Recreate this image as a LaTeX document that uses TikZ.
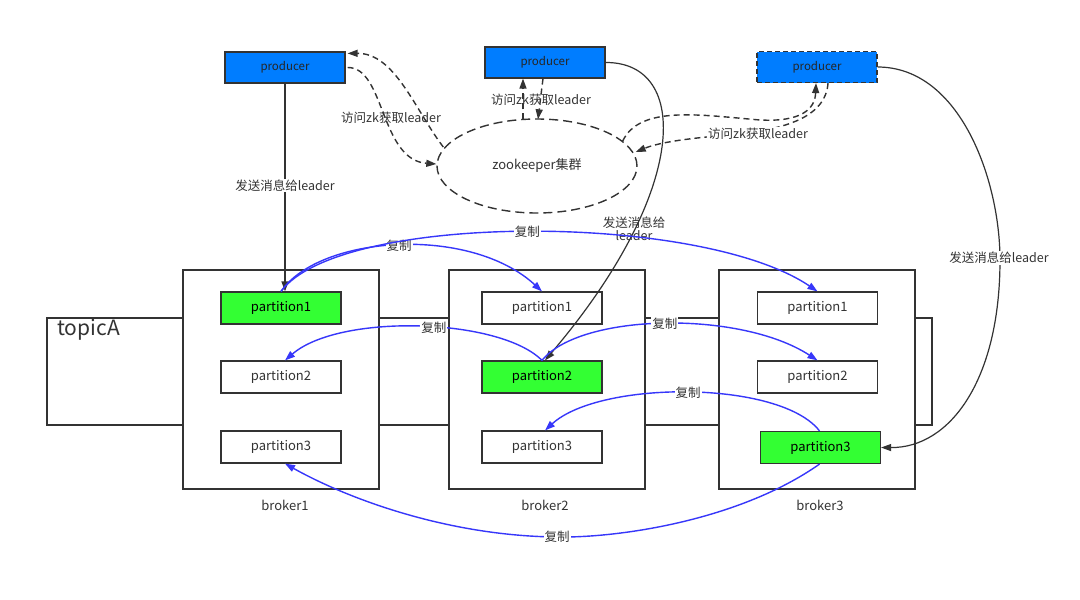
\documentclass[tikz,border=0pt]{standalone}
\usepackage{fontspec}
\setmainfont{Noto Sans CJK SC}
\usetikzlibrary{arrows.meta,shapes.geometric,calc}
\definecolor{txt}{RGB}{51,51,51}
\definecolor{prodblue}{RGB}{0,125,255}
\definecolor{leadgreen}{RGB}{51,255,51}
\definecolor{repblue}{RGB}{55,55,250}
\tikzset{
  prod/.style={draw=txt,fill=prodblue,line width=1.2pt,minimum width=120pt,minimum height=31pt,inner sep=0pt,font=\fontsize{11.5}{13}\selectfont,text=black!85},
  part/.style={draw=txt,fill=white,line width=1.2pt,minimum width=120pt,minimum height=32pt,inner sep=0pt,font=\fontsize{13}{14}\selectfont,text=txt},
  lead/.style={part,fill=leadgreen,text=black},
  brk/.style={draw=txt,fill=white,line width=1.3pt,minimum width=196pt,minimum height=219pt,inner sep=0pt},
  lbl/.style={font=\fontsize{12.5}{14}\selectfont,text=txt,inner sep=1pt},
  wlbl/.style={lbl,fill=white},
  tip/.style={-{Triangle[length=10pt,width=7pt]}},
  send/.style={draw=txt,line width=1.2pt,tip},
  zkline/.style={draw=txt,line width=1.4pt,dash pattern=on 6pt off 4pt,tip},
  rep/.style={draw=repblue,line width=1.4pt,-{Triangle[length=10pt,width=7pt]}},
}
\begin{document}
\begin{tikzpicture}[x=1pt,y=-1pt]
\useasboundingbox (0,0) rectangle (1080,600);
\fill[white] (0,0) rectangle (1080,600);
% topic
\draw[txt,line width=1.2pt] (47,318) rectangle (932,425);
\node[anchor=north west,font=\fontsize{21}{24}\selectfont,text=txt,inner sep=0pt] (topic) at (57,319) {topicA};
% brokers
\node[brk] (b1) at (281,379.5) {};
\node[brk] (b2) at (547,379.5) {};
\node[brk] (b3) at (817,379.5) {};
\node[lbl,font=\fontsize{13}{14}\selectfont] (b1l) at (285,505) {broker1};
\node[lbl,font=\fontsize{13}{14}\selectfont] (b2l) at (545,505) {broker2};
\node[lbl,font=\fontsize{13}{14}\selectfont] (b3l) at (820,505) {broker3};
% partitions
\node[lead] (a1) at (281,308) {partition1};
\node[part] (a2) at (281,377) {partition2};
\node[part] (a3) at (281,447) {partition3};
\node[part] (c1) at (542,308) {partition1};
\node[lead] (c2) at (542,377) {partition2};
\node[part] (c3) at (542,447) {partition3};
\node[part] (d1) at (817.5,308) {partition1};
\node[part] (d2) at (817.5,377) {partition2};
\node[lead] (d3) at (820.5,447.5) {partition3};
% producers and zookeeper
\node[prod] (p1) at (285,67.5) {producer};
\node[prod] (p2) at (545,62.5) {producer};
\node[prod,dashed,dash pattern=on 5pt off 3pt] (p3) at (817,67) {producer};
\node[ellipse,draw=txt,line width=1.4pt,dash pattern=on 9pt off 5pt,minimum width=200pt,minimum height=94pt,inner sep=0pt,font=\fontsize{13}{14}\selectfont,text=txt] (zk) at (537,166) {zookeeper集群};
% send to leader
\draw[send] (p1.south) -- node[wlbl,pos=0.49] (s1) {发送消息给leader} ($(a1.north)+(4,0)$);
\draw[send] (p2.east) .. controls (690,62) and (690,190) .. ($(c2.north)+(3,0)$);
\node[lbl,align=center,font=\fontsize{12.5}{13}\selectfont] (s2) at (634,229) {发送消息给\\leader};
\draw[send] (p3.east) .. controls (960,67) and (1000,180) .. (1000,260) coordinate (m3) .. controls (1000,380) and (950,448) .. (d3.east);
\node[wlbl] (s3) at (999,258) {发送消息给leader};
% zookeeper lookups
\draw[zkline] ($(p1.east)+(2,0)$) .. controls (385,67) and (380,160) .. ($(zk.west)+(0,-2)$);
\draw[zkline] ($(zk.west)+(7,-19)$) .. controls (415,110) and (395,53) .. ($(p1.north east)+(2,2)$);
\node[lbl] (z1) at (391,118) {访问zk获取leader};
\draw[zkline] ($(zk.north)+(-14,1)$) -- ($(p2.south)+(-22,0)$);
\draw[zkline] ($(p2.south)+(-2,0)$) -- ($(zk.north)+(1,1)$);
\node[lbl] (z2) at (541,100) {访问zk获取leader};
\draw[zkline] ($(zk.east)+(-15,-25)$) .. controls (640,105) and (700,115) .. (760,120) .. controls (800,122) and (815,110) .. ($(p3.south)+(-1,0)$);
\draw[zkline] ($(p3.south)+(11,0)$) .. controls (826,115) and (790,128) .. (740,134) .. controls (690,138) and (660,142) .. ($(zk.east)+(-2,-14)$);
\node[wlbl] (z3) at (758,134) {访问zk获取leader};
% replication
\draw[rep] (a1.north) .. controls (320,235) and (470,225) .. (c1.north) node[wlbl,pos=0.5] {复制};
\draw[rep] (a1.north) .. controls (340,212) and (700,212) .. (d1.north) node[wlbl,pos=0.5] {复制};
\draw[rep] (c2.north) .. controls (500,318) and (340,313) .. ($(a2.north)+(4,0)$) node[wlbl,pos=0.45] {复制};
\draw[rep] (c2.north) .. controls (580,313) and (740,310) .. (d2.north) node[wlbl,pos=0.5] {复制};
\draw[rep] ($(d3.north)+(-1,0)$) .. controls (780,380) and (600,380) .. ($(c3.north)+(3,0)$) node[wlbl,pos=0.5] {复制};
\draw[rep] ($(d3.south)+(-1,0)$) .. controls (740,520) and (620,538) .. (557,537) node[wlbl] {复制} .. controls (450,536) and (350,500) .. ($(a3.south)+(4,0)$);
\end{tikzpicture}
\end{document}
